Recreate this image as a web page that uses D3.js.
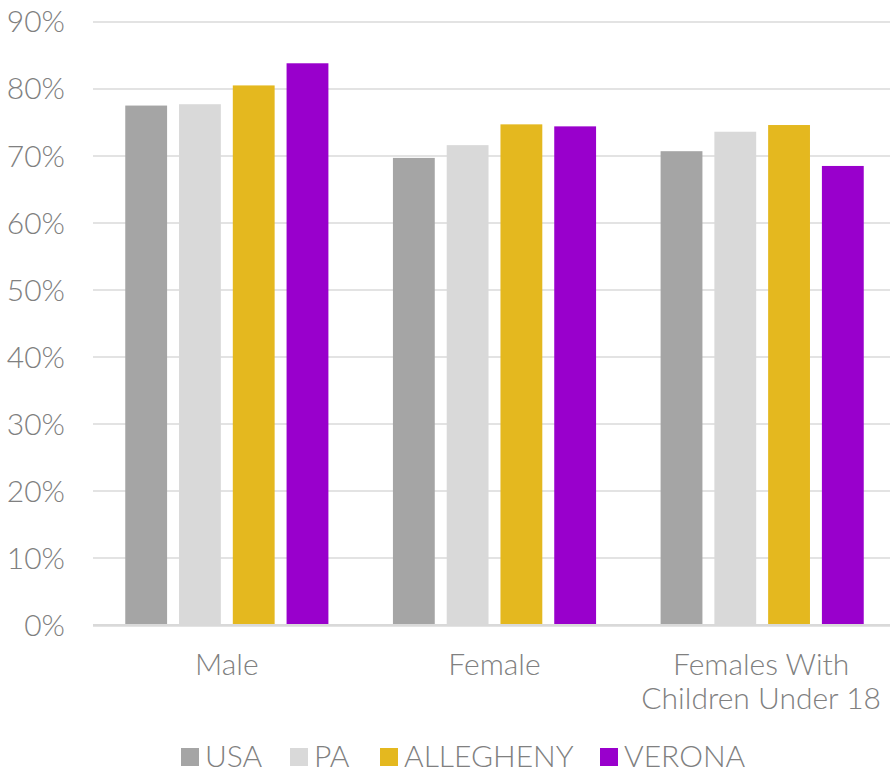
<!DOCTYPE html>
<html>
<head>
<meta charset="utf-8">
<script src="https://cdn.jsdelivr.net/npm/d3@7"></script>
<style>
  body { margin: 0; background: #fff; }
  svg text { font-family: Lato, "Open Sans", sans-serif; font-weight: 300; fill: #808080; }
</style>
</head>
<body>
<svg width="890" height="772"></svg>
<script>
var categories = ["Male", "Female", "Females With|Children Under 18"];
var seriesNames = ["USA", "PA", "ALLEGHENY", "VERONA"];
var usa       = [77.4, 69.6, 70.6];
var pa        = [77.6, 71.5, 73.5];
var allegheny = [80.4, 74.6, 74.5];
var verona    = [83.7, 74.3, 68.4];
var yTicks    = [0, 10, 20, 30, 40, 50, 60, 70, 80, 90];
var colors    = ["#a5a5a5", "#d9d9d9", "#e4b81f", "#9900cc"];

var series = [usa, pa, allegheny, verona];

var svg = d3.select("svg"),
    margin = {top: 21, right: -6, bottom: 147, left: 93},
    width = 890 - margin.left - margin.right,
    height = 772 - margin.top - margin.bottom,
    g = svg.append("g").attr("transform", "translate(" + margin.left + "," + margin.top + ")");

var x0 = d3.scaleBand()
    .domain(categories)
    .range([0, width]);

var x1 = d3.scaleBand()
    .domain(seriesNames)
    .range([0, x0.bandwidth()])
    .paddingInner(0.222)
    .paddingOuter(0.6);

var y = d3.scaleLinear()
    .domain([0, 90])
    .range([height, 0]);

// grid lines + y labels
var yAxis = d3.axisLeft(y)
    .tickValues(yTicks)
    .tickSize(-width)
    .tickFormat(function(d){ return d + "%"; });

var gy = g.append("g").attr("class", "axis-y").call(yAxis);
gy.select(".domain").remove();
gy.selectAll(".tick line")
    .attr("x2", 890 - margin.left)
    .attr("stroke", "#e3e3e3")
    .attr("stroke-width", 2)
    .attr("shape-rendering", "crispEdges");
gy.selectAll(".tick text")
    .attr("font-size", 30)
    .attr("text-anchor", "end")
    .attr("x", -28)
    .attr("dy", "0.36em");

// bars
series.forEach(function(vals, si){
    g.selectAll(".bar-" + si)
        .data(vals)
        .enter().append("rect")
        .attr("class", "bar-" + si)
        .attr("x", function(d, i){ return x0(categories[i]) + x1(seriesNames[si]); })
        .attr("width", x1.bandwidth())
        .attr("y", function(d){ return y(d); })
        .attr("height", function(d){ return y(0) - y(d); })
        .attr("fill", colors[si]);
});

// baseline
g.append("line")
    .attr("x1", 0).attr("x2", 890 - margin.left)
    .attr("y1", y(0)).attr("y2", y(0))
    .attr("stroke", "#d9d9d9")
    .attr("stroke-width", 2);

// category labels
categories.forEach(function(c){
    var lines = c.split("|");
    var cx = x0(c) + x0.bandwidth() / 2 - (lines.length > 1 ? 1 : 0);
    var t = g.append("text")
        .attr("text-anchor", "middle")
        .attr("font-size", 30)
        .attr("x", cx)
        .attr("y", height + 50);
    lines.forEach(function(l, i){
        t.append("tspan")
            .attr("x", cx)
            .attr("dy", i === 0 ? 0 : 34)
            .text(l);
    });
});

// legend
var legendX = [181, 290, 380, 600];
seriesNames.forEach(function(name, i){
    var lg = svg.append("g")
        .attr("class", "legend")
        .attr("transform", "translate(" + legendX[i] + ",748)");
    lg.append("rect")
        .attr("width", 18)
        .attr("height", 18)
        .attr("fill", colors[i]);
    lg.append("text")
        .attr("x", 24)
        .attr("y", 19)
        .attr("font-size", 30)
        .text(name);
});
</script>
</body>
</html>
